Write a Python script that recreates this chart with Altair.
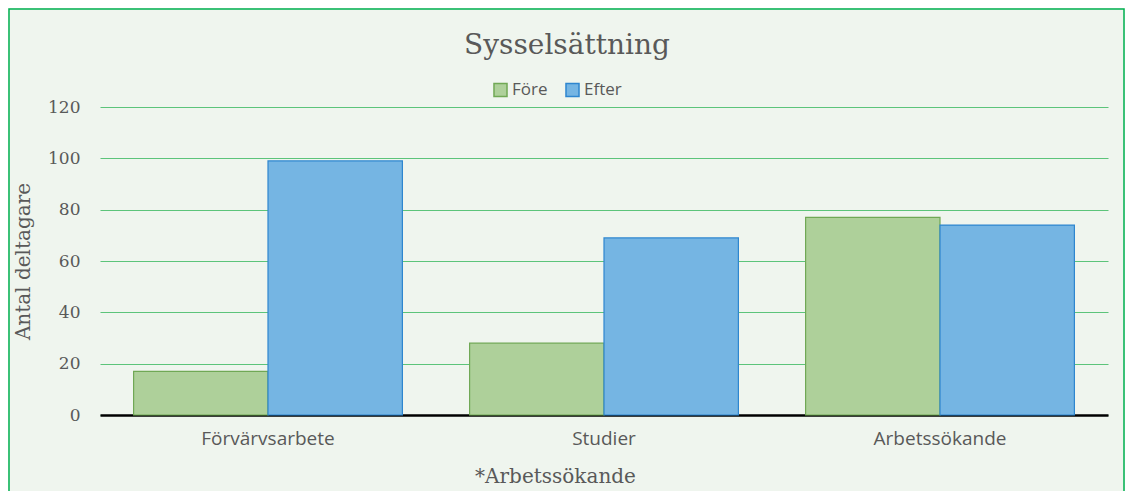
import altair as alt
import pandas as pd

categories = ["Förvärvsarbete", "Studier", "Arbetssökande"]
series = ["Före", "Efter"]
fore_values = [17, 28, 77]
efter_values = [99, 69, 74]
y_ticks = [0, 20, 40, 60, 80, 100, 120]

rows = []
for c, f, e in zip(categories, fore_values, efter_values):
    rows.append({"Kategori": c, "Serie": "Före", "Antal": f})
    rows.append({"Kategori": c, "Serie": "Efter", "Antal": e})
df = pd.DataFrame(rows)

bars = alt.Chart(df).mark_bar(strokeWidth=1.2).encode(
    x=alt.X("Kategori:N", sort=categories,
            scale=alt.Scale(paddingInner=0.2, paddingOuter=0.1),
            axis=alt.Axis(title="*Arbetssökande", labelAngle=0, labelFont="Open Sans",
                          labelFontSize=19, labelColor="#595959", labelPadding=14,
                          ticks=False, domain=True, domainColor="#000000", domainWidth=2.5,
                          titleFont="DejaVu Serif", titleFontSize=20, titleFontWeight="normal",
                          titleColor="#595959", titleX=455, titleY=61, titleBaseline="middle")),
    xOffset=alt.XOffset("Serie:N", sort=series, scale=alt.Scale(paddingInner=0, paddingOuter=0)),
    y=alt.Y("Antal:Q", scale=alt.Scale(domain=[0, 120], nice=False),
            axis=alt.Axis(values=y_ticks, title="Antal deltagare", labelFont="DejaVu Serif",
                          labelFontSize=17, labelColor="#595959", labelPadding=20,
                          ticks=False, domain=False, grid=True, gridColor="#5CC47A", gridWidth=1.2,
                          titleFont="DejaVu Serif", titleFontSize=20, titleFontWeight="normal",
                          titleColor="#595959", titlePadding=14)),
    color=alt.Color("Serie:N", sort=series,
                    scale=alt.Scale(domain=series, range=["#AED09A", "#75B5E3"]),
                    legend=alt.Legend(title=None, orient="none", direction="horizontal",
                                      legendX=392, legendY=-26, symbolType="square",
                                      symbolSize=170, symbolStrokeWidth=1.5,
                                      labelFont="Open Sans", labelFontSize=17,
                                      labelColor="#595959", columnPadding=14, labelOffset=3)),
    stroke=alt.Stroke("Serie:N", sort=series,
                      scale=alt.Scale(domain=series, range=["#70A855", "#2E86CF"]),
                      legend=None),
)

frame = alt.Chart(pd.DataFrame({"f": [0]})).mark_rect(
    fill=None, stroke="#00B050", strokeWidth=1.5, clip=False
).encode(
    x=alt.value(-91), x2=alt.value(1024), y=alt.value(-98), y2=alt.value(420)
)

chart = alt.layer(bars, frame).properties(
    width=1008,
    height=308,
    title=alt.TitleParams("Sysselsättning", font="DejaVu Serif", fontSize=28,
                          fontWeight="normal", color="#595959", anchor="middle",
                          dx=-37, offset=0, dy=52),
    autosize=alt.AutoSizeParams(type="none"),
    padding={"left": 92, "top": 99, "right": 17, "bottom": 76},
    background="#EFF5EE",
).configure_view(stroke=None)

chart.save("out.html", embed_options={"renderer": "svg", "actions": False})
